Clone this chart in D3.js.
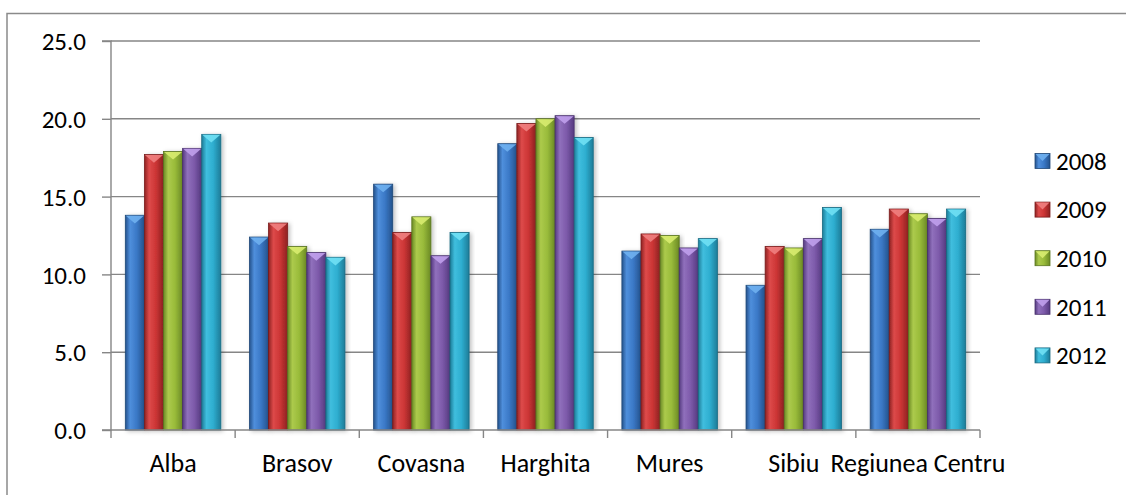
<!DOCTYPE html>
<html><head><meta charset="utf-8">
<script src="https://cdn.jsdelivr.net/npm/d3@7"></script>
<style>
html,body{margin:0;padding:0;background:#fff;}
svg{display:block;font-family:"Carlito","Lato",sans-serif;}
</style></head>
<body><svg id="c" width="1126" height="495"></svg>
<script>
const categories = ["Alba","Brasov","Covasna","Harghita","Mures","Sibiu","Regiunea Centru"];
const seriesNames = ["2008","2009","2010","2011","2012"];
const v2008 = [13.8, 12.4, 15.8, 18.4, 11.5, 9.3, 12.9];
const v2009 = [17.7, 13.3, 12.7, 19.7, 12.6, 11.8, 14.2];
const v2010 = [17.9, 11.8, 13.7, 20.0, 12.5, 11.7, 13.9];
const v2011 = [18.1, 11.4, 11.2, 20.2, 11.7, 12.3, 13.6];
const v2012 = [19.0, 11.1, 12.7, 18.8, 12.3, 14.3, 14.2];
const yTicks = [0,5,10,15,20,25];
const seriesValues = [v2008,v2009,v2010,v2011,v2012];

const colors = [
 {dark:"#24528c", mid:"#3a78c6", light:"#4f8fdc", top:"#6fb0f0", stroke:"#1f4878"},
 {dark:"#8e2222", mid:"#cc3535", light:"#dd4a4a", top:"#f08080", stroke:"#7a1c1c"},
 {dark:"#6b8a25", mid:"#99bb3a", light:"#acca4c", top:"#d8ec70", stroke:"#5a7520"},
 {dark:"#553a80", mid:"#7d5aaa", light:"#9070bc", top:"#c0a0ec", stroke:"#48306c"},
 {dark:"#1d7c98", mid:"#2eaed0", light:"#40bede", top:"#70e0f4", stroke:"#186a82"}
];

const svg = d3.select("#c");
const defs = svg.append("defs");
colors.forEach((c,i)=>{
  const g = defs.append("linearGradient").attr("id","g"+i).attr("x1","0").attr("x2","1").attr("y1","0").attr("y2","0");
  g.append("stop").attr("offset","0%").attr("stop-color",c.dark);
  g.append("stop").attr("offset","25%").attr("stop-color",c.light);
  g.append("stop").attr("offset","60%").attr("stop-color",c.mid);
  g.append("stop").attr("offset","100%").attr("stop-color",c.dark);
});
const f = defs.append("filter").attr("id","sh").attr("x","-30%").attr("y","-10%").attr("width","160%").attr("height","120%");
f.append("feDropShadow").attr("dx",2).attr("dy",1).attr("stdDeviation",2).attr("flood-color","#000").attr("flood-opacity",0.25);

// outer border
svg.append("path").attr("d","M7,495 V13.5 H1126").attr("fill","none").attr("stroke","#8a8a8a").attr("stroke-width",1.5);

const pLeft=111, pRight=980, pTop=41, pBottom=430;
const x = d3.scaleBand().domain(categories).range([pLeft,pRight]).padding(0);
const bw = x.bandwidth()/6.5;
const xs = d3.scaleBand().domain(seriesNames).range([bw*0.75, bw*5.75]).padding(0);
const y = d3.scaleLinear().domain([0,25]).range([pBottom,pTop]);

// gridlines
svg.append("g").selectAll("line").data(yTicks.filter(t=>t>0)).join("line")
  .attr("x1",pLeft).attr("x2",pRight).attr("y1",d=>y(d)).attr("y2",d=>y(d))
  .attr("stroke","#868686").attr("stroke-width",1.4);

// y axis
const ya = svg.append("g").attr("transform",`translate(${pLeft},0)`)
  .call(d3.axisLeft(y).tickValues(yTicks).tickFormat(d3.format(".1f")).tickSize(9).tickPadding(16));
ya.select(".domain").attr("stroke","#868686").attr("stroke-width",1.4).attr("d",`M-9,${y(25)}H0V${y(0)}H-9`);
ya.selectAll(".tick line").attr("stroke","#868686").attr("stroke-width",1.4);
ya.selectAll(".tick text").attr("font-size",25).attr("fill","#000").attr("font-family","Carlito, Lato, sans-serif").attr("dy","0.35em");

// bars
const groups = svg.append("g").selectAll("g").data(categories).join("g")
  .attr("transform",d=>`translate(${x(d)},0)`);
seriesNames.forEach((s,si)=>{
  const vals = seriesValues[si];
  const bars = groups.append("g").attr("filter","url(#sh)").datum((d,i)=>vals[i]);
  bars.append("rect").attr("x",xs(s)).attr("width",xs.bandwidth())
    .attr("y",d=>y(d)).attr("height",d=>y(0)-y(d))
    .attr("fill",`url(#g${si})`).attr("stroke",colors[si].stroke).attr("stroke-width",0.8);
  bars.append("path").attr("d",d=>{
      const x0=xs(s)+0.5, x1=xs(s)+xs.bandwidth()-0.5, yt=y(d)+0.5, h=xs.bandwidth()*0.4;
      return `M${x0},${yt}L${x1},${yt}L${(x0+x1)/2},${yt+h}Z`;
    }).attr("fill",colors[si].top).attr("opacity",0.9);
});

// x axis
const xa = svg.append("g").attr("transform",`translate(0,${pBottom})`)
  .call(d3.axisBottom(x).tickSize(0).tickPadding(24));
xa.select(".domain").attr("stroke","#868686").attr("stroke-width",1.4).attr("d",`M${pLeft},0H${pRight}`);
xa.selectAll(".tick text").attr("font-size",26).attr("fill","#000").attr("font-family","Carlito, Lato, sans-serif");
svg.append("g").selectAll("line").data(categories.map((c,i)=>i).concat([categories.length])).join("line")
  .attr("x1",i=>pLeft+i*x.bandwidth()).attr("x2",i=>pLeft+i*x.bandwidth())
  .attr("y1",pBottom).attr("y2",pBottom+8).attr("stroke","#868686").attr("stroke-width",1.4);

// legend
const lg = svg.append("g").selectAll("g").data(seriesNames).join("g")
  .attr("transform",(d,i)=>`translate(1035,${161+i*48.6})`);
lg.append("rect").attr("x",0).attr("y",-7.5).attr("width",15).attr("height",15)
  .attr("fill",(d,i)=>`url(#g${i})`).attr("stroke",(d,i)=>colors[i].stroke).attr("stroke-width",0.8);
lg.append("path").attr("d","M0.5,-7L14.5,-7L7.5,0Z").attr("fill",(d,i)=>colors[i].top).attr("opacity",0.9);
lg.append("text").attr("x",21).attr("dy","0.35em").attr("font-size",25).text(d=>d);
</script></body></html>
